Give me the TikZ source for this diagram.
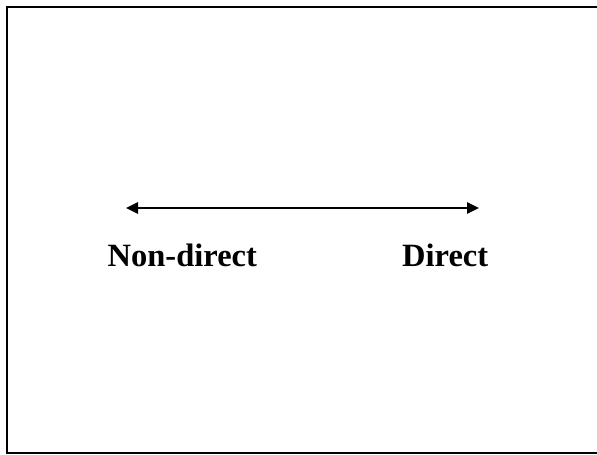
\documentclass[tikz,border=0pt]{standalone}
\usepackage{fontspec}
\setmainfont{Liberation Serif}
\usetikzlibrary{arrows.meta}
\tikzset{
  frameline/.style={line width=2pt, black},
  scaleline/.style={line width=2.5pt, black, {Triangle[length=12pt,width=11pt]}-{Triangle[length=12pt,width=11pt]}},
  endlabel/.style={anchor=base west, inner sep=0pt, font=\fontsize{32.5}{32.5}\selectfont\bfseries}
}
\begin{document}
\begin{tikzpicture}[x=1pt, y=-1pt]
  \useasboundingbox (0,0) rectangle (597,455);
  % open frame, right side runs off the page
  \draw[frameline] (600,7) -- (7,7) -- (7,453) -- (600,453);
  % scale ends
  \coordinate (left) at (126,208);
  \coordinate (right) at (479,208);
  \draw[scaleline] (left) -- (right);
  \node[endlabel] (nondirect) at (107.5,266) {Non-direct};
  \node[endlabel] (direct) at (402,266) {Direct};
\end{tikzpicture}
\end{document}
